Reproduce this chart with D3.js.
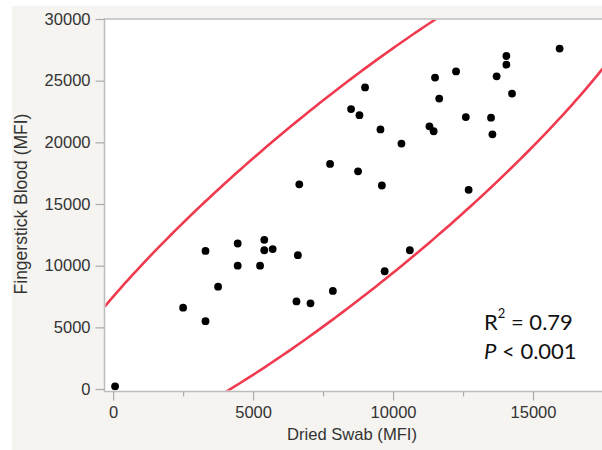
<!DOCTYPE html>
<html>
<head>
<meta charset="utf-8">
<script src="https://cdn.jsdelivr.net/npm/d3@7"></script>
<style>
body { margin: 0; background: #fff; }
svg { display: block; }
</style>
</head>
<body>
<div class="chart"></div>
<script>
const WIDTH = 602;
const HEIGHT = 450;

// dried swab MFI (x) vs fingerstick blood MFI (y)
var swab = [70, 2500, 3300, 3300, 3750, 4450, 4450, 5250, 5400, 5400,
    5700, 6550, 6600, 6650, 7050, 7750, 7850, 8500, 8800, 8750,
    9000, 9550, 9600, 9700, 10300, 10600, 11300, 11450, 11500, 11650,
    12250, 12600, 12700, 13500, 13550, 13700, 14050, 14050, 14250, 15950];
var blood = [220, 6600, 5500, 11200, 8300, 11800, 10000, 10000, 12100, 11250,
    11350, 7100, 10850, 16600, 6950, 18250, 7950, 22700, 22200, 17650,
    24450, 21050, 16500, 9550, 19900, 11250, 21300, 20900, 25250, 23550,
    25750, 22050, 16150, 22000, 20650, 25350, 26300, 27000, 23950, 27600];
var xTicks = [0, 5000, 10000, 15000];
var xMinorTicks = [2500, 7500, 12500];
var yTicks = [0, 5000, 10000, 15000, 20000, 25000, 30000];

// 95% density ellipse (data units)
var ellipseCenter = [8385, 15750];
var ellipseSlope = 1.72;        // slope of the line through the vertical chord midpoints
var ellipseHalfWidth = 11280;   // half extent along x
var ellipseHalfHeight = 9200;   // half vertical chord at the center

var plotLeft = 104.5, plotRight = 603, plotTop = 19, plotBottom = 391.5;

var svg = d3.select(".chart").append("svg")
    .attr("width", WIDTH)
    .attr("height", HEIGHT);

svg.append("rect")
    .attr("x", 12).attr("y", 6)
    .attr("width", WIDTH - 12).attr("height", HEIGHT - 6)
    .attr("fill", "#f5f4f0");

var x = d3.scaleLinear().domain([-290, 17500]).range([plotLeft + 0.5, plotRight]);
var y = d3.scaleLinear().domain([-200, 30000]).range([plotBottom, plotTop]);

svg.append("rect")
    .attr("x", plotLeft).attr("y", plotTop)
    .attr("width", plotRight - plotLeft).attr("height", plotBottom - plotTop)
    .attr("fill", "#fff")
    .attr("stroke", "#bdbdbd")
    .attr("stroke-width", 1.5);

// axes
var font = "Liberation Sans, Arial, sans-serif";
svg.append("g")
    .attr("transform", "translate(" + plotLeft + ",0)")
    .call(d3.axisLeft(y).tickValues(yTicks).tickSize(9).tickPadding(5).tickFormat(d3.format("d")));
svg.append("g")
    .attr("transform", "translate(0," + plotBottom + ")")
    .call(d3.axisBottom(x).tickValues(xTicks).tickSize(9).tickPadding(6).tickFormat(d3.format("d")));
svg.append("g")
    .attr("transform", "translate(0," + plotBottom + ")")
    .call(d3.axisBottom(x).tickValues(xMinorTicks).tickSize(5).tickFormat(""));
svg.selectAll(".domain").remove();
svg.selectAll(".tick line").attr("stroke", "#aaa").attr("stroke-width", 1.2);
svg.selectAll(".tick text")
    .attr("fill", "#333")
    .style("font-family", font)
    .style("font-size", "16.5px");

svg.append("text")
    .attr("transform", "translate(27,204) rotate(-90)")
    .attr("text-anchor", "middle")
    .style("font-family", font)
    .style("font-size", "17.5px")
    .attr("fill", "#333")
    .text("Fingerstick Blood (MFI)");

svg.append("text")
    .attr("x", 352).attr("y", 440)
    .attr("text-anchor", "middle")
    .style("font-family", font)
    .style("font-size", "16.6px")
    .attr("fill", "#333")
    .text("Dried Swab (MFI)");

// ellipse outline
var ellipse = d3.range(0, 361, 1).map(function(a) {
    var t = a * Math.PI / 180;
    var dx = ellipseHalfWidth * Math.cos(t);
    return [ellipseCenter[0] + dx,
        ellipseCenter[1] + ellipseSlope * dx + ellipseHalfHeight * Math.sin(t)];
});

svg.append("clipPath").attr("id", "clip")
    .append("rect")
    .attr("x", plotLeft + 1).attr("y", plotTop + 1)
    .attr("width", plotRight - plotLeft - 1).attr("height", plotBottom - plotTop - 2);

var line = d3.line().x(d => x(d[0])).y(d => y(d[1]));
var plot = svg.append("g").attr("clip-path", "url(#clip)");
plot.append("path")
    .datum(ellipse)
    .attr("d", line)
    .attr("fill", "none")
    .attr("stroke", "#ef3a4f")
    .attr("stroke-width", 2.6);

plot.selectAll("circle")
    .data(swab)
    .enter().append("circle")
    .attr("cx", d => x(d))
    .attr("cy", (d, i) => y(blood[i]))
    .attr("r", 3.9)
    .attr("fill", "#000");

// annotation
var note = svg.append("g")
    .style("font-family", "Lato, Open Sans, sans-serif")
    .style("font-size", "22px")
    .attr("fill", "#111");
var r2 = note.append("text").attr("x", 484).attr("y", 330);
r2.append("tspan").text("R");
r2.append("tspan").attr("dy", -12).style("font-size", "13px").text("2");
r2.append("tspan").attr("dy", 12).text(" = 0.79");
var p = note.append("text").attr("x", 484).attr("y", 359);
p.append("tspan").style("font-style", "italic").text("P");
p.append("tspan").text(" < 0.001");
</script>
</body>
</html>
